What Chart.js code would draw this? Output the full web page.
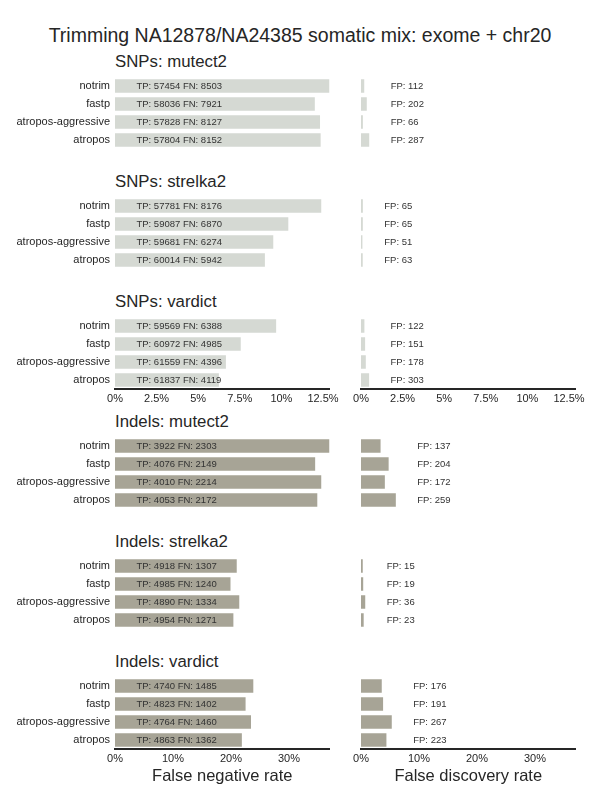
<!DOCTYPE html>
<html>
<head>
<meta charset="utf-8">
<script src="https://cdn.jsdelivr.net/npm/chart.js@4.4.1/dist/chart.umd.min.js"></script>
<style>
  body { margin: 0; background: #fff; font-family: "Liberation Sans", Arial, sans-serif; color: #262626; }
  #page { position: relative; width: 600px; height: 800px; overflow: hidden; }
  .txt { position: absolute; white-space: nowrap; }
  canvas { position: absolute; }
</style>
</head>
<body>
<div id="page">
  <div class="txt" style="left:0;width:600px;text-align:center;top:22.7px;font-size:19.5px;line-height:24px;">Trimming NA12878/NA24385 somatic mix: exome + chr20</div>
</div>
<script>
const tools = ["notrim", "fastp", "atropos-aggressive", "atropos"];

// SNPs
const snpMutect2TP = [57454, 58036, 57828, 57804];
const snpMutect2FN = [8503, 7921, 8127, 8152];
const snpMutect2FP = [112, 202, 66, 287];
const snpStrelka2TP = [57781, 59087, 59681, 60014];
const snpStrelka2FN = [8176, 6870, 6274, 5942];
const snpStrelka2FP = [65, 65, 51, 63];
const snpVardictTP = [59569, 60972, 61559, 61837];
const snpVardictFN = [6388, 4985, 4396, 4119];
const snpVardictFP = [122, 151, 178, 303];

// Indels
const indelMutect2TP = [3922, 4076, 4010, 4053];
const indelMutect2FN = [2303, 2149, 2214, 2172];
const indelMutect2FP = [137, 204, 172, 259];
const indelStrelka2TP = [4918, 4985, 4890, 4954];
const indelStrelka2FN = [1307, 1240, 1334, 1271];
const indelStrelka2FP = [15, 19, 36, 23];
const indelVardictTP = [4740, 4823, 4764, 4863];
const indelVardictFN = [1485, 1402, 1460, 1362];
const indelVardictFP = [176, 191, 267, 223];

const snpTickStep = 2.5;
const indelTickStep = 10;

const FONT = '"Liberation Sans", Arial, sans-serif';
const TEXT_COLOR = "#262626";
const SNP_COLOR = "#d5d9d3";
const INDEL_COLOR = "#a7a496";

Chart.defaults.font.family = FONT;
Chart.defaults.color = TEXT_COLOR;

const panels = [
  { title: "SNPs: mutect2", tp: snpMutect2TP, fn: snpMutect2FN, fp: snpMutect2FP, kind: "snp" },
  { title: "SNPs: strelka2", tp: snpStrelka2TP, fn: snpStrelka2FN, fp: snpStrelka2FP, kind: "snp" },
  { title: "SNPs: vardict", tp: snpVardictTP, fn: snpVardictFN, fp: snpVardictFP, kind: "snp", ticks: true },
  { title: "Indels: mutect2", tp: indelMutect2TP, fn: indelMutect2FN, fp: indelMutect2FP, kind: "indel" },
  { title: "Indels: strelka2", tp: indelStrelka2TP, fn: indelStrelka2FN, fp: indelStrelka2FP, kind: "indel" },
  { title: "Indels: vardict", tp: indelVardictTP, fn: indelVardictFN, fp: indelVardictFP, kind: "indel", ticks: true, axisTitle: true }
];

function rate(tp, bad) {
  return bad.map((b, i) => 100 * b / (tp[i] + b));
}

// shared x range per variant type = largest false negative rate in that group
const xMax = {};
panels.forEach(p => {
  p.fnr = rate(p.tp, p.fn);
  p.fdr = rate(p.tp, p.fp);
  xMax[p.kind] = Math.max(xMax[p.kind] || 0, ...p.fnr);
});

function textPlugin(at, texts) {
  return {
    id: "barText",
    afterDatasetsDraw(chart) {
      const { ctx, scales: { x, y } } = chart;
      const px = x.getPixelForValue(at);
      ctx.save();
      ctx.font = "9.5px " + FONT;
      ctx.fillStyle = "#333";
      ctx.textAlign = "left";
      ctx.textBaseline = "middle";
      texts.forEach((t, i) => ctx.fillText(t, px, y.getPixelForValue(i)));
      ctx.restore();
    }
  };
}

const page = document.getElementById("page");

function addCanvas(left, top, w, h) {
  const c = document.createElement("canvas");
  c.width = w;
  c.height = h;
  c.style.left = left + "px";
  c.style.top = top + "px";
  c.style.width = w + "px";
  c.style.height = h + "px";
  page.appendChild(c);
  return c;
}

function drawSide(p, side, top) {
  const isLeft = side === "left";
  const max = xMax[p.kind];
  const axisH = p.axisTitle ? 41 : (p.ticks ? 22 : 0);
  const w = isLeft ? 345 : 260;
  const canvas = addCanvas(isLeft ? 0 : 340, top, w, 72 + axisH);
  const values = isLeft ? p.fnr : p.fdr;
  const texts = isLeft
    ? p.tp.map((t, i) => "TP: " + t + " FN: " + p.fn[i])
    : p.fp.map(f => "FP: " + f);
  const at = isLeft ? 0.1 * max : Math.max(...p.fdr) + 0.1 * max;

  new Chart(canvas, {
    type: "bar",
    data: {
      labels: tools,
      datasets: [{
        data: values,
        backgroundColor: p.kind === "snp" ? SNP_COLOR : INDEL_COLOR,
        borderWidth: 0,
        barPercentage: 0.75,
        categoryPercentage: 1
      }]
    },
    options: {
      indexAxis: "y",
      responsive: false,
      animation: false,
      events: [],
      layout: { padding: isLeft ? { left: 0, right: 15.5, top: 0, bottom: 0 } : { left: 21, right: 24.5, top: 0, bottom: 0 } },
      plugins: { legend: { display: false }, tooltip: { enabled: false } },
      scales: {
        x: {
          display: !!p.ticks,
          min: 0,
          max: max,
          grid: { display: false, drawTicks: false },
          border: { display: true, color: TEXT_COLOR, width: 2 },
          ticks: {
            stepSize: p.kind === "snp" ? snpTickStep : indelTickStep,
            includeBounds: false,
            autoSkip: false,
            maxRotation: 0,
            padding: 3,
            color: TEXT_COLOR,
            font: { size: 11 },
            callback: v => v + "%"
          },
          title: {
            display: !!p.axisTitle,
            text: isLeft ? "False negative rate" : "False discovery rate",
            color: TEXT_COLOR,
            font: { size: 16.5 },
            padding: { top: 4, bottom: 4 }
          },
          afterFit: s => { s.height = axisH; }
        },
        y: {
          display: isLeft,
          grid: { display: false, drawTicks: false },
          border: { display: false },
          ticks: { padding: 5, autoSkip: false, color: TEXT_COLOR, font: { size: 11 } },
          afterFit: s => {
            s.width = isLeft ? 115 : 0;
            s.paddingTop = 0;
            s.paddingBottom = 0;
          }
        }
      }
    },
    plugins: [textPlugin(at, texts)]
  });
}

panels.forEach((p, i) => {
  const areaTop = 77 + 120 * i;
  const t = document.createElement("div");
  t.className = "txt";
  t.style.left = "115px";
  t.style.top = (51.5 + 120 * i) + "px";
  t.style.fontSize = "16.8px";
  t.style.lineHeight = "20px";
  t.textContent = p.title;
  page.appendChild(t);
  drawSide(p, "left", areaTop);
  drawSide(p, "right", areaTop);
});
</script>
</body>
</html>
